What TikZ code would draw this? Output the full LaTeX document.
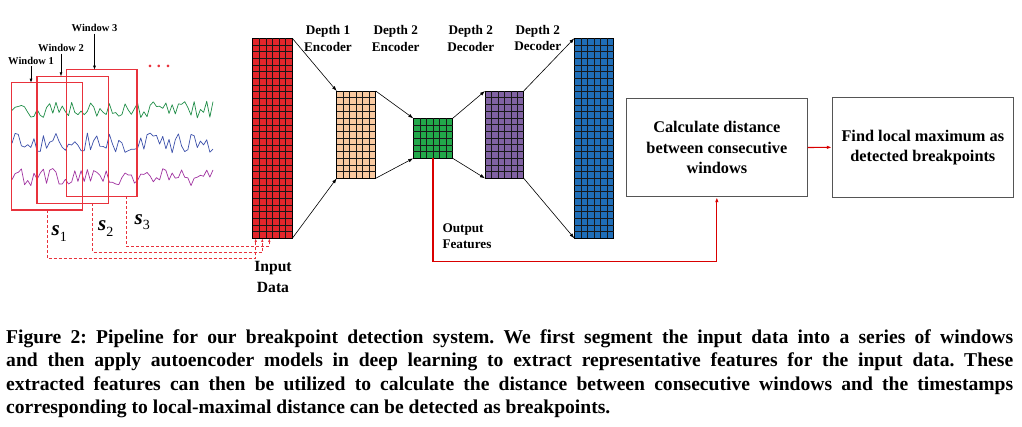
\documentclass[tikz,border=0pt]{standalone}
\usepackage{fontspec}
\setmainfont{Liberation Serif}
\usepackage{tikz}
\usetikzlibrary{arrows.meta,calc}
\definecolor{inred}{HTML}{E3262B}
\definecolor{encpeach}{HTML}{F9C9A0}
\definecolor{codegreen}{HTML}{22A84A}
\definecolor{decpurple}{HTML}{8062A3}
\definecolor{outblue}{HTML}{1F6EB8}
\definecolor{winred}{HTML}{E8323C}
\definecolor{siggreen}{HTML}{1E8C46}
\definecolor{sigblue}{HTML}{3C50AA}
\definecolor{sigpurple}{HTML}{A032A0}
\definecolor{boxgray}{HTML}{555555}

% cell grid over a layer block: node name, number of rows (6 columns)
\newcommand{\cellgrid}[2]{%
  \pgfmathtruncatemacro{\lastrow}{#2-1}
  \foreach \c in {1,...,5}
    \draw[cellline] ($(#1.north west)!{\c/6}!(#1.north east)$)
      -- ($(#1.south west)!{\c/6}!(#1.south east)$);
  \foreach \r in {1,...,\lastrow}
    \draw[cellline] ($(#1.north west)!{\r/#2}!(#1.south west)$)
      -- ($(#1.north east)!{\r/#2}!(#1.south east)$);
}

\begin{document}
\frenchspacing
\begin{tikzpicture}[x=1pt, y=-1pt,
    every node/.style={font=\bfseries},
    block/.style={draw=black, line width=0.7pt, inner sep=0pt,
      outer sep=0pt, anchor=north west},
    cellline/.style={black!90, line width=0.6pt},
    flow/.style={-{Latex[length=5pt,width=3.5pt]}, line width=0.6pt},
    win/.style={inner sep=0pt, outer sep=0pt, anchor=north west},
    winframe/.style={draw=winred, line width=1.2pt},
    pointer/.style={-{Latex[length=4pt,width=3pt]}, line width=0.6pt},
    feed/.style={winred, dash pattern=on 3pt off 2pt, line width=0.8pt,
      -{Latex[length=3.5pt,width=2.5pt]}},
    feat/.style={red!85!black, line width=1.1pt,
      -{Latex[length=5pt,width=3.5pt]}},
    procbox/.style={draw=boxgray, line width=1pt, align=center,
      font=\fontsize{16.3}{20.2}\selectfont\bfseries},
    layer/.style={align=center, inner sep=0pt, anchor=north,
      font=\fontsize{13.2}{16.7}\selectfont\bfseries},
    winlabel/.style={inner sep=1.5pt, anchor=base,
      font=\fontsize{10.5}{12}\selectfont\bfseries},
    sig/.style={line width=0.7pt, line join=round},
    caption/.style={anchor=north west, inner sep=0pt, text width=1007pt,
      align=justify, font=\fontsize{19.6}{23.3}\selectfont\bfseries}]
  \useasboundingbox (0,0) rectangle (1022,426);

  % Time series
  \pgfmathsetseed{11}
  \draw[sig, siggreen] plot[domain=12:213, samples=65] (\x, {110+9*rand});
  \draw[sig, sigblue] plot[domain=12:213, samples=65] (\x, {143+10*rand});
  \draw[sig, sigpurple] plot[domain=12:213, samples=65] (\x, {177+9*rand});

  % Sliding windows
  \node[win, minimum width=70.6, minimum height=127.3] (w1) at (11.7,82.7) {};
  \node[win, minimum width=71.3, minimum height=127] (w2) at (37,76.3) {};
  \node[win, minimum width=70.7, minimum height=126.6] (w3) at (66.3,69.7) {};
  \foreach \k in {1,2,3}
    \draw[winframe] (w\k.north west) rectangle (w\k.south east);
  \node[text=winred, anchor=base] (more) at (159,67.5)
    {\fontsize{16}{16}\selectfont .\hspace{5pt}.\hspace{5pt}.};

  \node[winlabel] (wl1) at (31,64.3) {Window 1};
  \node[winlabel] (wl2) at (61,51.7) {Window 2};
  \node[winlabel] (wl3) at (94.5,31.7) {Window 3};
  \foreach \k in {1,2,3}
    \draw[pointer] (wl\k.south) -- (wl\k.south |- w\k.north);

  % Window vectors
  \node[anchor=base west, inner sep=0pt] (s1) at (51.5,235.7)
    {\fontsize{21}{21}\selectfont\itshape s\raisebox{-6pt}{\fontsize{14}{14}\selectfont\mdseries\upshape 1}};
  \node[anchor=base west, inner sep=0pt] (s2) at (98,230.7)
    {\fontsize{21}{21}\selectfont\itshape s\raisebox{-5.5pt}{\fontsize{14}{14}\selectfont\mdseries\upshape 2}};
  \node[anchor=base west, inner sep=0pt] (s3) at (134.5,224.3)
    {\fontsize{21}{21}\selectfont\itshape s\raisebox{-5.5pt}{\fontsize{14}{14}\selectfont\mdseries\upshape 3}};

  % Autoencoder layers
  \node[block, fill=inred, minimum width=39.6, minimum height=200] (in) at (252.7,38.3) {};
  \node[block, fill=encpeach, minimum width=39, minimum height=87.3] (enc1) at (336.7,91) {};
  \node[block, fill=codegreen, minimum width=39.4, minimum height=40] (code) at (413.3,118.3) {};
  \node[block, fill=decpurple, minimum width=38.7, minimum height=87.3] (dec1) at (485,91) {};
  \node[block, fill=outblue, minimum width=39.4, minimum height=200] (out) at (574.3,38.3) {};
  \cellgrid{in}{30}
  \cellgrid{enc1}{13}
  \cellgrid{code}{6}
  \cellgrid{dec1}{13}
  \cellgrid{out}{30}

  \draw[flow] (in.north east) -- (enc1.north west);
  \draw[flow] (in.south east) -- (enc1.south west);
  \draw[flow] (enc1.north east) -- (code.north west);
  \draw[flow] (enc1.south east) -- (code.south west);
  \draw[flow] (code.north east) -- (dec1.north west);
  \draw[flow] (code.south east) -- (dec1.south west);
  \draw[flow] (dec1.north east) -- (out.north west);
  \draw[flow] (dec1.south east) -- (out.south west);

  \node[layer] (lab1) at (328,25.3) {Depth 1\\Encoder};
  \node[layer] (lab2) at (395.7,25.3) {Depth 2\\Encoder};
  \node[layer] (lab3) at (470.7,25.3) {Depth 2\\Decoder};
  \node[layer] (lab4) at (537.7,24.7) {Depth 2\\Decoder};

  \node[layer, font=\fontsize{15.6}{20.6}\selectfont\bfseries] (inlab) at (273,261.4)
    {Input\\Data};
  \node[layer, anchor=north west, align=left] (outlab) at (442.3,223.2)
    {Output\\Features};

  % Windows fed into the input layer
  \coordinate (tip1) at ([xshift=3pt]in.south west);
  \coordinate (tip2) at ([xshift=9.6pt]in.south west);
  \coordinate (tip3) at ([xshift=16.6pt]in.south west);
  \draw[feed] (w1.south) -- ++(0,48.3) -| (tip1);
  \draw[feed] ([xshift=-16pt]w2.south east) -- ++(0,48.7) -| (tip2);
  \draw[feed] ([xshift=-10.7pt]w3.south east) -- ++(0,50) -| (tip3);

  % Distance and breakpoints
  \node[procbox, minimum width=180.3, minimum height=98.4] (dist) at (716.85,147.5)
    {Calculate distance\\between consecutive\\windows};
  \node[procbox, minimum width=181, minimum height=100] (find) at (922.8,147.3)
    {Find local maximum as\\detected breakpoints};

  \draw[feat] (code.south) -- ++(0,103) -| (dist.south);
  \draw[feat] (dist.east) -- (find.west);

  % Caption
  \node[caption] (cap) at (6,329.5) {Figure 2: Pipeline for our breakpoint detection system. We first segment the input data into a series of windows\linebreak
    and then apply autoencoder models in deep learning to extract representative features for the input data. These\linebreak
    extracted features can then be utilized to calculate the distance between consecutive windows and the timestamps\linebreak
    corresponding to local-maximal distance can be detected as breakpoints.};
\end{tikzpicture}
\end{document}
